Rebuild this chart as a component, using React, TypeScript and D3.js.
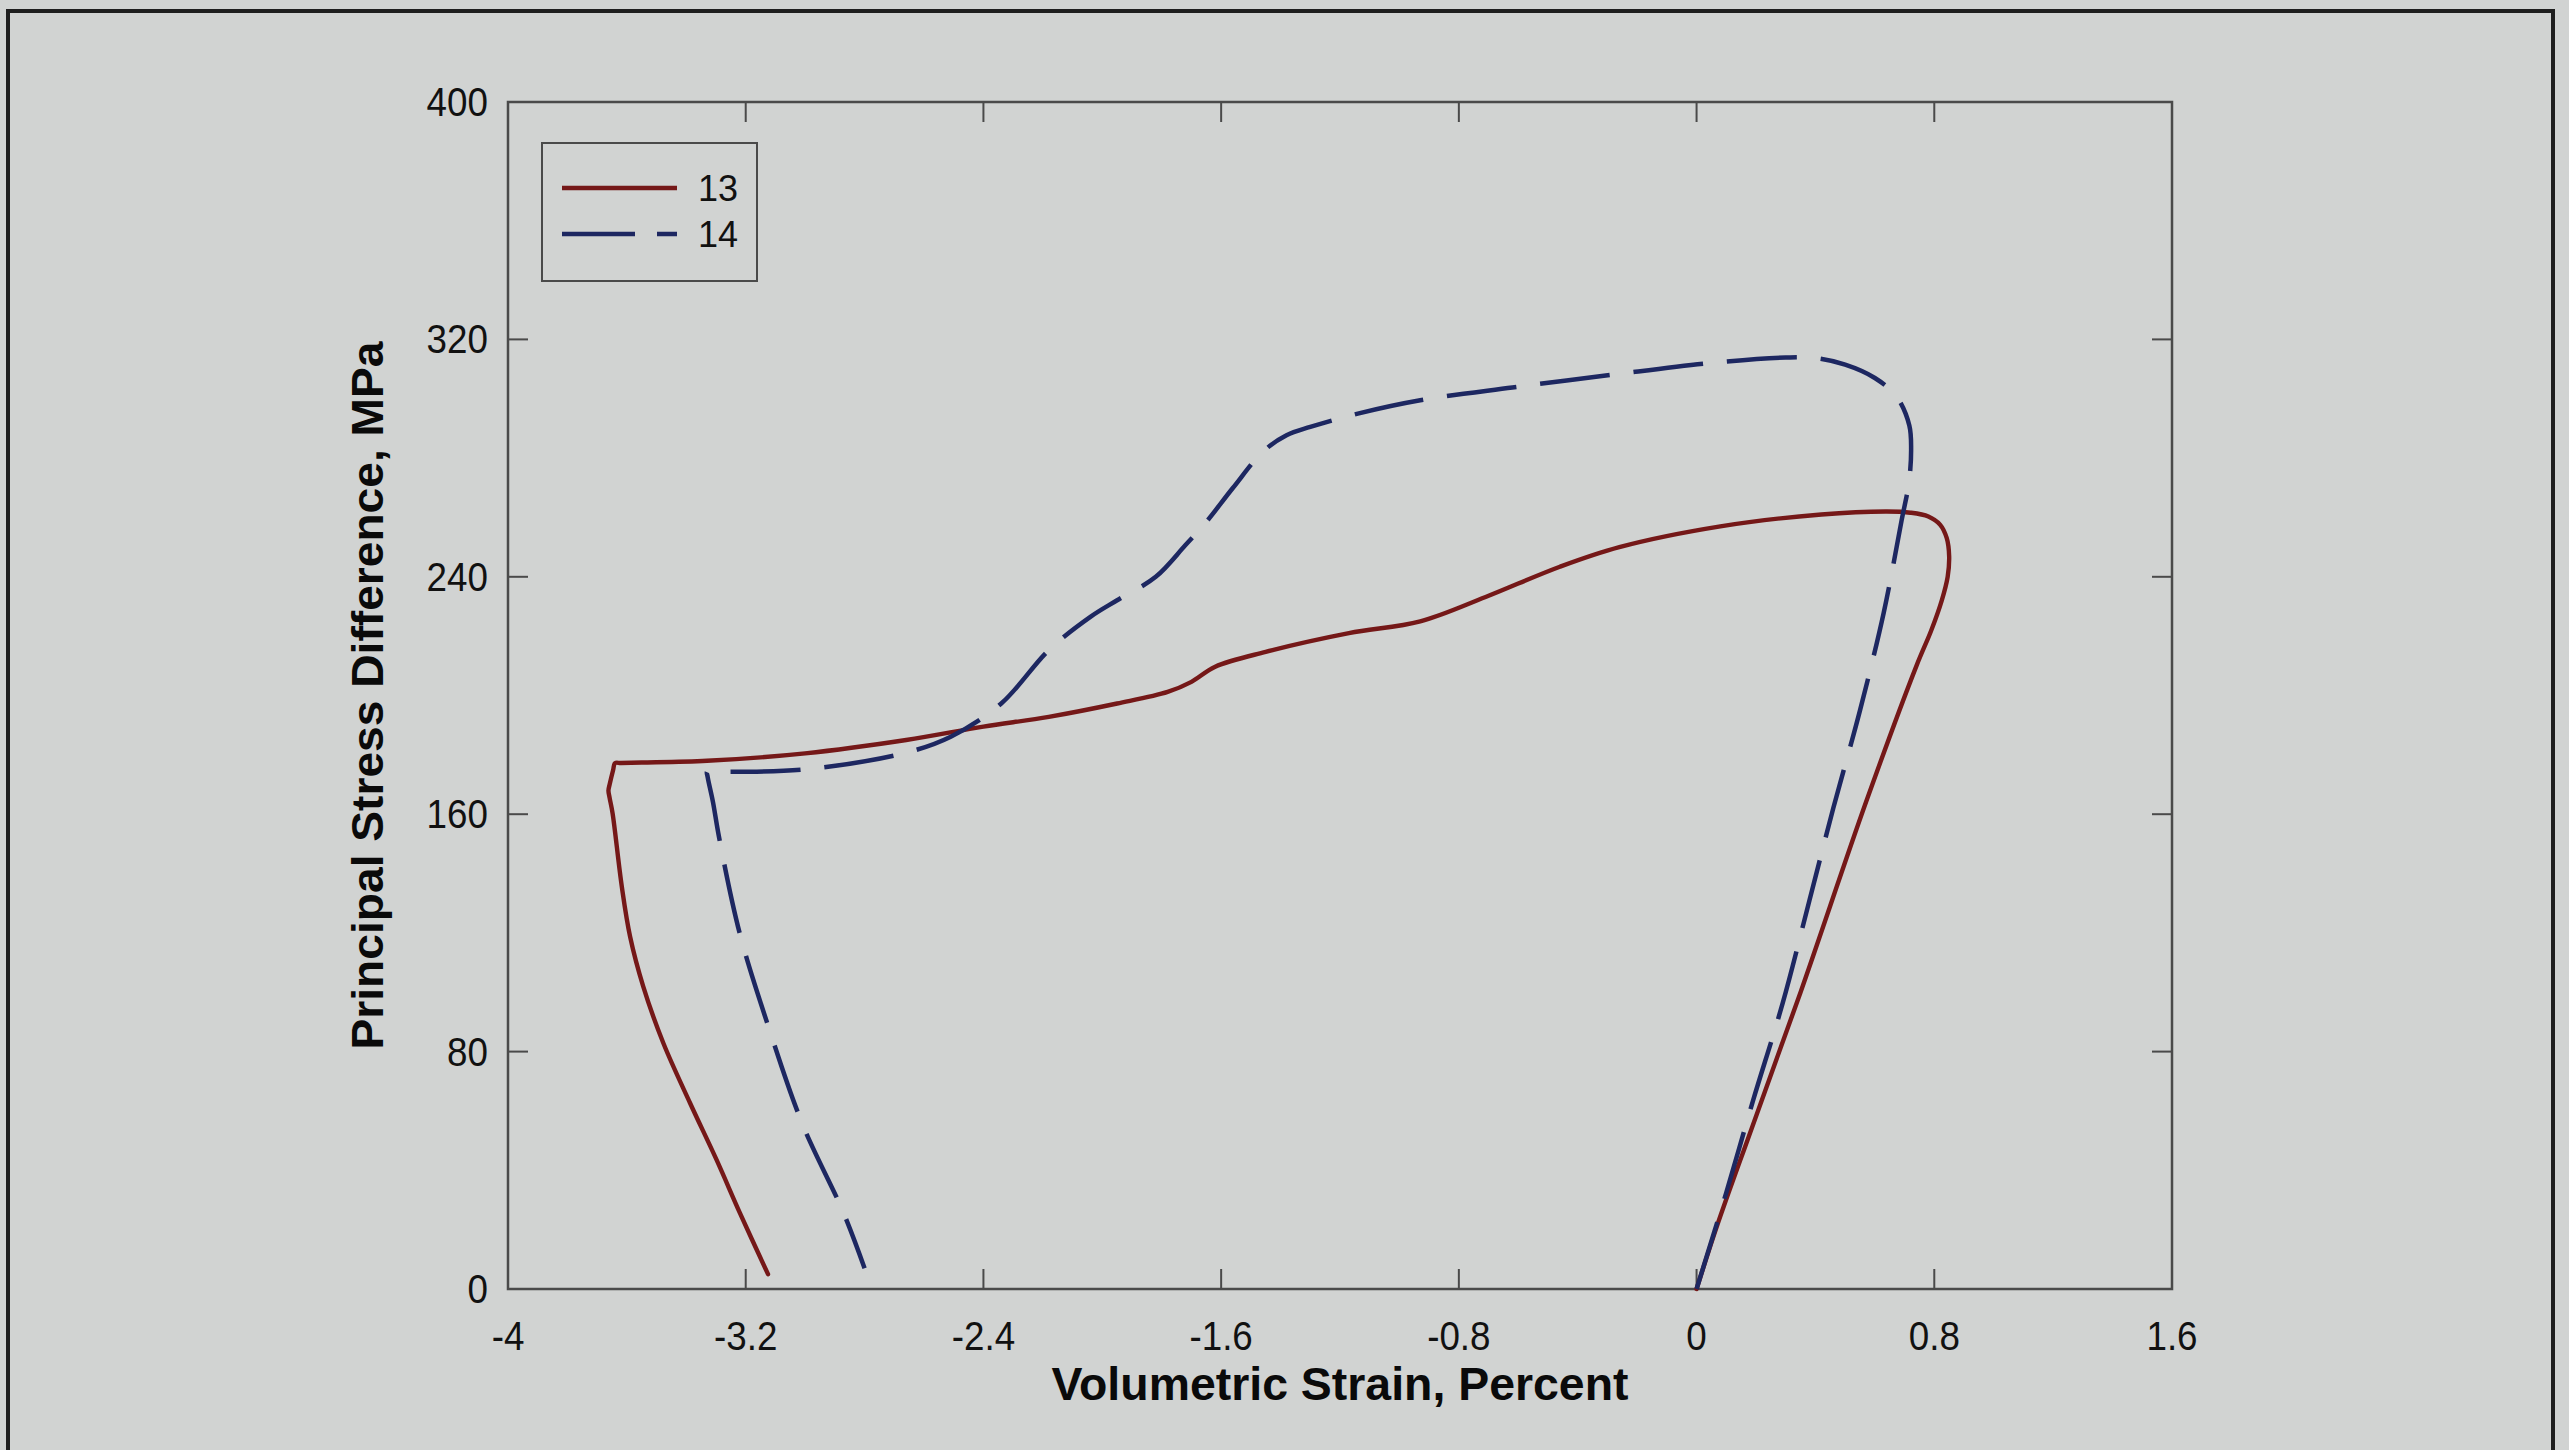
import React from 'react';
import * as d3 from 'd3';

// ---- data ----
const xTicks = [-4, -3.2, -2.4, -1.6, -0.8, 0, 0.8, 1.6];
const yTicks = [0, 80, 160, 240, 320, 400];
const seriesNames = ['13', '14'];

// Test 13 (solid, dark red): volumetric strain (%) and principal stress difference (MPa)
const strain13 = [0, 0.07, 0.18, 0.35, 0.57, 0.74, 0.79, 0.825, 0.845, 0.85, 0.842, 0.82, 0.78, 0.72, 0.64, 0.42, 0.08, -0.26, -0.46, -0.71, -0.93, -1.17, -1.45, -1.62, -1.7, -1.78, -1.95, -2.18, -2.4, -2.66, -3.0, -3.33, -3.55, -3.62, -3.64, -3.646, -3.658, -3.662, -3.658, -3.648, -3.617, -3.589, -3.545, -3.477, -3.387, -3.298, -3.219, -3.125];
const stress13 = [0, 21.6, 52.6, 100, 164, 210, 222, 232, 240, 247, 253, 257.5, 260.3, 261.6, 262, 261, 257, 250, 243.4, 233.2, 225, 221, 214.7, 209.7, 204.6, 201.2, 197.3, 192.8, 189.5, 185, 180.5, 178, 177.4, 177.25, 177.2, 175, 170, 168, 165.5, 160.3, 135.6, 118.7, 102, 82.8, 62.6, 43.5, 25.5, 5];

// Test 14 (dashed, navy)
const strain14 = [0, 0.1, 0.19, 0.29, 0.38, 0.46, 0.55, 0.63, 0.69, 0.715, 0.722, 0.716, 0.674, 0.6, 0.5, 0.4, 0.3, 0.03, -0.29, -0.62, -0.93, -1.14, -1.3, -1.38, -1.46, -1.56, -1.65, -1.72, -1.82, -1.95, -2.04, -2.18, -2.34, -2.51, -2.67, -3.0, -3.23, -3.31, -3.33, -3.328, -3.31, -3.29, -3.22, -3.12, -3.01, -2.87, -2.8];
const stress14 = [0, 32.5, 63.5, 96.4, 131, 162, 195, 228, 259, 272, 283, 291, 300.6, 307, 311.5, 313.7, 313.9, 311.9, 308, 303.8, 299.5, 295, 290.5, 287.7, 282.1, 270, 258.5, 250.7, 240, 232.1, 226.5, 215.3, 197.3, 186.1, 180.5, 175.1, 174.3, 174.3, 174.3, 172.5, 164, 152.4, 119.8, 87.3, 55.8, 25.5, 7];

const xTitle = 'Volumetric Strain, Percent';
const yTitle = 'Principal Stress Difference, MPa';

const W = 2569;
const H = 1450;
const FONT = '"Liberation Sans", Arial, Helvetica, sans-serif';
const BG = '#d1d3d2';
const AXIS = '#4a4a4a';
const RED = '#751818';
const BLUE = '#1d2761';

export default function App() {
  const left = 508, right = 2172, top = 102, bottom = 1289;
  const x = d3.scaleLinear().domain([-4, 1.6]).range([left, right]);
  const y = d3.scaleLinear().domain([0, 400]).range([bottom, top]);
  const line = d3
    .line<[number, number]>()
    .x((d) => x(d[0]))
    .y((d) => y(d[1]))
    .curve(d3.curveCatmullRom.alpha(0.5));

  const pts13: [number, number][] = strain13.map((v, i) => [v, stress13[i]]);
  const pts14: [number, number][] = strain14.map((v, i) => [v, stress14[i]]);
  const tickLen = 20;

  return (
    <svg
      width={W}
      height={H}
      viewBox={`0 0 ${W} ${H}`}
      style={{ position: 'absolute', left: 0, top: 0, display: 'block' }}
      fontFamily={FONT}
    >
      <rect x={0} y={0} width={W} height={H} fill={BG} />
      {/* outer frame of the page */}
      <rect x={8} y={11} width={2545} height={1500} fill="none" stroke="#1e1e1e" strokeWidth={4} />

      {/* plot box */}
      <rect x={left} y={top} width={right - left} height={bottom - top} fill="none" stroke={AXIS} strokeWidth={2.5} />

      {/* x ticks (inward, bottom & top) */}
      {xTicks.map((t) => (
        <g key={'xt' + t}>
          <line x1={x(t)} x2={x(t)} y1={bottom} y2={bottom - tickLen} stroke={AXIS} strokeWidth={2} />
          <line x1={x(t)} x2={x(t)} y1={top} y2={top + tickLen} stroke={AXIS} strokeWidth={2} />
          <g transform={`translate(${x(t)},${1350}) scale(0.92,1)`}>
            <text textAnchor="middle" fontSize={40} fill="#111">
              {String(t)}
            </text>
          </g>
        </g>
      ))}

      {/* y ticks (inward, left & right) */}
      {yTicks.map((t) => (
        <g key={'yt' + t}>
          <line x1={left} x2={left + tickLen} y1={y(t)} y2={y(t)} stroke={AXIS} strokeWidth={2} />
          <line x1={right} x2={right - tickLen} y1={y(t)} y2={y(t)} stroke={AXIS} strokeWidth={2} />
          <g transform={`translate(${488},${y(t) + 14}) scale(0.92,1)`}>
            <text textAnchor="end" fontSize={40} fill="#111">
              {String(t)}
            </text>
          </g>
        </g>
      ))}

      {/* axis titles */}
      <text
        x={(left + right) / 2}
        y={1400}
        textAnchor="middle"
        fontSize={46}
        fontWeight="bold"
        fill="#0a0a0a"
        textLength={577}
        lengthAdjust="spacingAndGlyphs"
      >
        {xTitle}
      </text>
      <text
        transform={`translate(383,${(top + bottom) / 2}) rotate(-90)`}
        textAnchor="middle"
        fontSize={44}
        fontWeight="bold"
        fill="#0a0a0a"
        textLength={708}
        lengthAdjust="spacingAndGlyphs"
      >
        {yTitle}
      </text>

      {/* data */}
      <path d={line(pts13) || ''} fill="none" stroke={RED} strokeWidth={4.4} strokeLinejoin="round" strokeLinecap="round" />
      <path d={line(pts14) || ''} fill="none" stroke={BLUE} strokeWidth={4.5} strokeDasharray="70 24" strokeLinejoin="round" />

      {/* legend */}
      <rect x={542} y={143} width={215} height={138} fill="none" stroke={AXIS} strokeWidth={2} />
      <line x1={562} x2={677} y1={188} y2={188} stroke={RED} strokeWidth={4.4} />
      <text x={698} y={201} fontSize={36} fill="#111">{seriesNames[0]}</text>
      <line x1={562} x2={677} y1={234} y2={234} stroke={BLUE} strokeWidth={4.5} strokeDasharray="73 22" />
      <text x={698} y={247} fontSize={36} fill="#111">{seriesNames[1]}</text>
    </svg>
  );
}
